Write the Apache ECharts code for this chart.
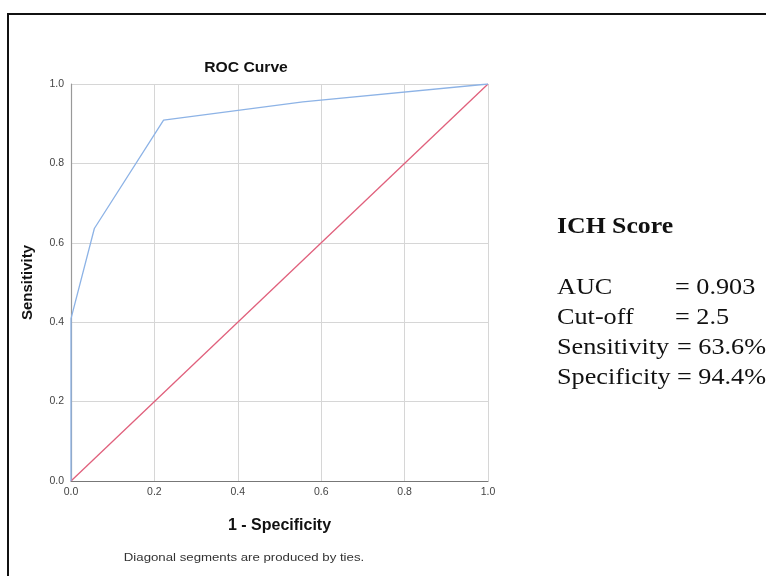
<!DOCTYPE html>
<html>
<head>
<meta charset="utf-8">
<script src="https://cdn.jsdelivr.net/npm/echarts@6/dist/echarts.min.js"></script>
<style>
html,body{margin:0;padding:0;background:#fff;}
#chart{width:766px;height:576px;}
</style>
</head>
<body>
<div id="chart"></div>
<script>
// ROC curve points (1 - Specificity, Sensitivity)
const rocFpr = [0, 0, 0.056, 0.222, 0.556, 1.0];
const rocTpr = [0, 0.409, 0.636, 0.909, 0.955, 1.0];
// reference diagonal
const diagX = [0, 1];
const diagY = [0, 1];
const titleText = 'ROC Curve';
const xAxisName = '1 - Specificity';
const yAxisName = 'Sensitivity';
const footnote = 'Diagonal segments are produced by ties.';
const statsTitle = 'ICH Score';
const statsLabels = ['AUC', 'Cut-off', 'Sensitivity', 'Specificity'];
const statsValues = ['= 0.903', '= 2.5', '= 63.6%', '= 94.4%'];

const chart = echarts.init(document.getElementById('chart'), null, {renderer: 'canvas'});

const rocData = rocFpr.map((x, i) => [x, rocTpr[i]]);
const diagData = diagX.map((x, i) => [x, diagY[i]]);

const sans = '"Liberation Sans", Arial, sans-serif';
const serif = '"Liberation Serif", "Times New Roman", serif';
const valueX = [675, 675, 677, 677];
const statsGraphics = [];
statsGraphics.push({
  type: 'text', x: 557, y: 227, scaleX: 1.12,
  style: {text: statsTitle, font: 'bold 23px ' + serif, fill: '#111', x: 0, y: 0, align: 'left', verticalAlign: 'middle'}
});
statsLabels.forEach((lab, i) => {
  const y = 288 + i * 30;
  statsGraphics.push({type: 'text', x: 557, y: y, scaleX: 1.14,
    style: {text: lab, font: '23px ' + serif, fill: '#111', x: 0, y: 0, align: 'left', verticalAlign: 'middle'}});
  statsGraphics.push({type: 'text', x: valueX[i], y: y, scaleX: 1.14,
    style: {text: statsValues[i], font: '23px ' + serif, fill: '#111', x: 0, y: 0, align: 'left', verticalAlign: 'middle'}});
});

chart.setOption({
  animation: false,
  backgroundColor: '#fff',
  grid: {left: 71, right: 278, top: 84, bottom: 95, containLabel: false},
  xAxis: {
    type: 'value', min: 0, max: 1, interval: 0.2,
    name: xAxisName, nameLocation: 'middle', nameGap: 37,
    nameTextStyle: {fontFamily: sans, fontSize: 16, fontWeight: 'bold', color: '#111'},
    axisLine: {show: true, lineStyle: {color: '#777', width: 1.2}},
    axisTick: {show: false},
    axisLabel: {fontFamily: sans, fontSize: 10.5, color: '#444', margin: 6,
      formatter: v => v.toFixed(1)},
    splitLine: {show: true, lineStyle: {color: '#d6d6d6', width: 1}}
  },
  yAxis: {
    type: 'value', min: 0, max: 1, interval: 0.2,
    name: yAxisName, nameLocation: 'middle', nameGap: 36, nameRotate: 90,
    nameTextStyle: {fontFamily: sans, fontSize: 15, fontWeight: 'bold', color: '#111'},
    axisLine: {show: true, lineStyle: {color: '#999', width: 1.2}},
    axisTick: {show: false},
    axisLabel: {fontFamily: sans, fontSize: 10.5, color: '#444', margin: 7,
      formatter: v => v.toFixed(1)},
    splitLine: {show: true, lineStyle: {color: '#d6d6d6', width: 1}}
  },
  series: [
    {type: 'line', data: diagData, showSymbol: false, symbol: 'none',
      lineStyle: {color: '#e0607c', width: 1.3}, z: 3},
    {type: 'line', data: rocData, showSymbol: false, symbol: 'none',
      lineStyle: {color: '#8db3e6', width: 1.3}, z: 4}
  ],
  graphic: [
    {type: 'rect', shape: {x: 8, y: 14, width: 800, height: 620},
      style: {fill: 'none', stroke: '#111', lineWidth: 2}, silent: true},
    {type: 'text', x: 246, y: 68, scaleX: 1.12,
      style: {text: titleText, font: 'bold 14px ' + sans, fill: '#111', x: 0, y: 0, align: 'center', verticalAlign: 'middle'}},
    {type: 'text', x: 244, y: 558, scaleX: 1.15,
      style: {text: footnote, font: '11.5px ' + sans, fill: '#333', x: 0, y: 0, align: 'center', verticalAlign: 'middle'}}
  ].concat(statsGraphics)
});
</script>
</body>
</html>
